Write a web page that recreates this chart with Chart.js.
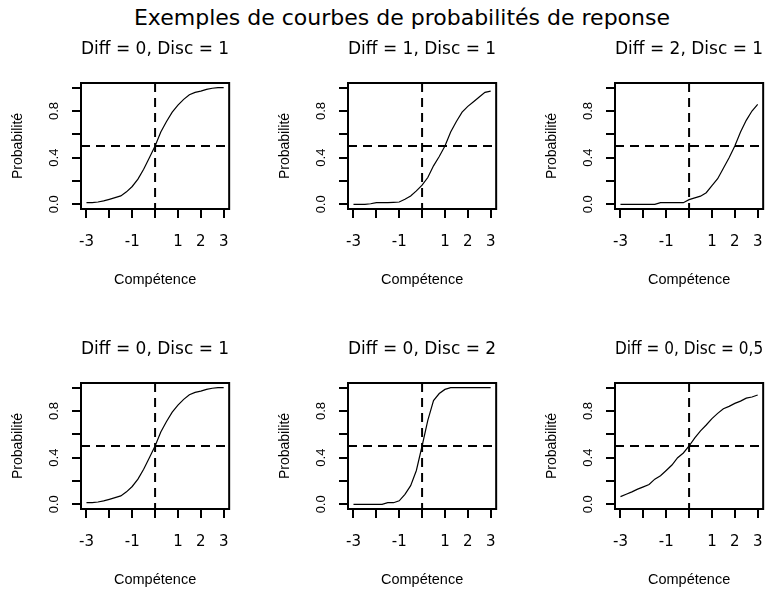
<!DOCTYPE html>
<html>
<head>
<meta charset="utf-8">
<script src="https://cdn.jsdelivr.net/npm/chart.js@4.4.0/dist/chart.umd.min.js"></script>
<style>
  body { margin: 0; background: #fff; width: 779px; height: 590px; position: relative; overflow: hidden; }
  #titre { position: absolute; top: 7px; left: 0; width: 804px; text-align: center; font-family: "DejaVu Sans"; font-size: 22px; line-height: 22px; color: #000; white-space: nowrap; }
  canvas { position: absolute; }
</style>
</head>
<body>
<div id="titre">Exemples de courbes de probabilités de reponse</div>
<canvas id="c0" width="244" height="290" style="left:0px;top:0px"></canvas>
<canvas id="c1" width="244" height="290" style="left:267px;top:0px"></canvas>
<canvas id="c2" width="244" height="290" style="left:534px;top:0px"></canvas>
<canvas id="c3" width="244" height="290" style="left:0px;top:300px"></canvas>
<canvas id="c4" width="244" height="290" style="left:267px;top:300px"></canvas>
<canvas id="c5" width="244" height="290" style="left:534px;top:300px"></canvas>
<script>
// valeurs
var competence = [-3, -2.75, -2.5, -2.25, -2, -1.75, -1.5, -1.25, -1, -0.75, -0.5, -0.25, 0,
                  0.25, 0.5, 0.75, 1, 1.25, 1.5, 1.75, 2, 2.25, 2.5, 2.75, 3];

var probD0a1 = [0.014, 0.014, 0.02, 0.029, 0.043, 0.058, 0.072, 0.107, 0.153, 0.216, 0.30, 0.40, 0.50,
                0.62, 0.71, 0.79, 0.85, 0.90, 0.94, 0.96, 0.97, 0.985, 0.995, 1.0, 1.0];
var probD1a1 = [0.0, 0.0, 0.0, 0.005, 0.014, 0.014, 0.014, 0.017, 0.02, 0.043, 0.072, 0.115, 0.164,
                0.23, 0.33, 0.41, 0.50, 0.62, 0.71, 0.79, 0.84, 0.88, 0.92, 0.96, 0.97];
var probD2a1 = [0, 0, 0, 0, 0, 0, 0, 0.014, 0.014, 0.014, 0.014, 0.014, 0.04,
                0.055, 0.07, 0.10, 0.16, 0.22, 0.31, 0.40, 0.50, 0.62, 0.72, 0.80, 0.856];
var probD0a2 = [0, 0, 0, 0, 0, 0, 0.014, 0.014, 0.03, 0.086, 0.16, 0.29, 0.50,
                0.72, 0.89, 0.95, 0.985, 1, 1, 1, 1, 1, 1, 1, 1];
var probD0a05 = [0.066, 0.086, 0.107, 0.13, 0.15, 0.17, 0.216, 0.245, 0.29, 0.337, 0.40, 0.44, 0.50,
                 0.57, 0.63, 0.68, 0.735, 0.78, 0.82, 0.84, 0.865, 0.885, 0.91, 0.92, 0.937];

var titresPanneaux = ['Diff = 0, Disc = 1', 'Diff = 1, Disc = 1', 'Diff = 2, Disc = 1',
                      'Diff = 0, Disc = 1', 'Diff = 0, Disc = 2', 'Diff = 0, Disc = 0,5'];
var series = [probD0a1, probD1a1, probD2a1, probD0a1, probD0a2, probD0a05];

var xTicks = [-3, -2, -1, 0, 1, 2, 3];
var xTickLabels = ['-3', '', '-1', '', '1', '2', '3'];
var yTicks = [0, 0.2, 0.4, 0.6, 0.8, 1];
var yTickLabels = ['0.0', '', '0.4', '', '0.8', ''];

var seuilProba = 0.5;
var seuilCompetence = 0;
var xLim = [-3.24, 3.24];
var yLim = [-0.04, 1.04];

// cadre autour de la zone de tracé (comme box() dans R)
var cadre = {
    id: 'cadre',
    afterDraw: function (chart) {
        var a = chart.chartArea, ctx = chart.ctx;
        ctx.save();
        ctx.strokeStyle = '#000';
        ctx.lineWidth = 2;
        ctx.setLineDash([]);
        ctx.strokeRect(a.left, a.top, a.right - a.left, a.bottom - a.top);
        ctx.restore();
    }
};

function faireGraphe(i) {
    var courbe = competence.map(function (c, k) { return {x: c, y: series[i][k]}; });

    new Chart(document.getElementById('c' + i), {
        type: 'line',
        data: {
            datasets: [
                {data: courbe, borderColor: '#000', borderWidth: 1.2, pointRadius: 0, tension: 0},
                {data: [{x: xLim[0], y: seuilProba}, {x: xLim[1], y: seuilProba}],
                 borderColor: '#000', borderWidth: 2, borderDash: [9, 6], pointRadius: 0},
                {data: [{x: seuilCompetence, y: yLim[1]}, {x: seuilCompetence, y: yLim[0]}],
                 borderColor: '#000', borderWidth: 2, borderDash: [9, 6], pointRadius: 0}
            ]
        },
        options: {
            responsive: false,
            animation: false,
            layout: {padding: {left: 0, right: 12, top: 0, bottom: 0}},
            plugins: {
                legend: {display: false},
                tooltip: {enabled: false},
                title: {
                    display: true,
                    text: titresPanneaux[i],
                    fullSize: false,
                    color: '#000',
                    font: {family: 'DejaVu Sans', size: 18, weight: 'normal'},
                    padding: {top: 39, bottom: 22.4}
                }
            },
            scales: {
                x: {
                    type: 'linear',
                    min: xLim[0],
                    max: xLim[1],
                    afterBuildTicks: function (s) { s.ticks = xTicks.map(function (v) { return {value: v}; }); },
                    afterFit: function (s) { s.height = 81; },
                    grid: {drawOnChartArea: false, drawTicks: true, tickLength: 9, color: '#000', lineWidth: 2},
                    border: {display: false},
                    ticks: {
                        autoSkip: false,
                        maxRotation: 0,
                        padding: 15,
                        color: '#000',
                        font: {family: 'DejaVu Sans', size: 15},
                        callback: function (v, idx) { return xTickLabels[idx]; }
                    },
                    title: {
                        display: true,
                        text: 'Compétence',
                        color: '#000',
                        font: {family: 'Liberation Sans', size: 14.5},
                        padding: {top: 1.3, bottom: 1.3}
                    }
                },
                y: {
                    type: 'linear',
                    min: yLim[0],
                    max: yLim[1],
                    afterBuildTicks: function (s) { s.ticks = yTicks.map(function (v) { return {value: v}; }); },
                    afterFit: function (s) { s.width = 81; },
                    grid: {drawOnChartArea: false, drawTicks: true, tickLength: 9, color: '#000', lineWidth: 2},
                    border: {display: false},
                    ticks: {
                        autoSkip: false,
                        minRotation: 90,
                        maxRotation: 90,
                        crossAlign: 'center',
                        padding: 9,
                        color: '#000',
                        font: {family: 'Liberation Sans', size: 13},
                        callback: function (v, idx) { return yTickLabels[idx]; }
                    },
                    title: {
                        display: true,
                        text: 'Probabilité',
                        color: '#000',
                        font: {family: 'Liberation Sans', size: 14},
                        padding: {top: 9.6, bottom: 9.6}
                    }
                }
            }
        },
        plugins: [cadre]
    });
}

for (var i = 0; i < 6; i++) {
    faireGraphe(i);
}
</script>
</body>
</html>
